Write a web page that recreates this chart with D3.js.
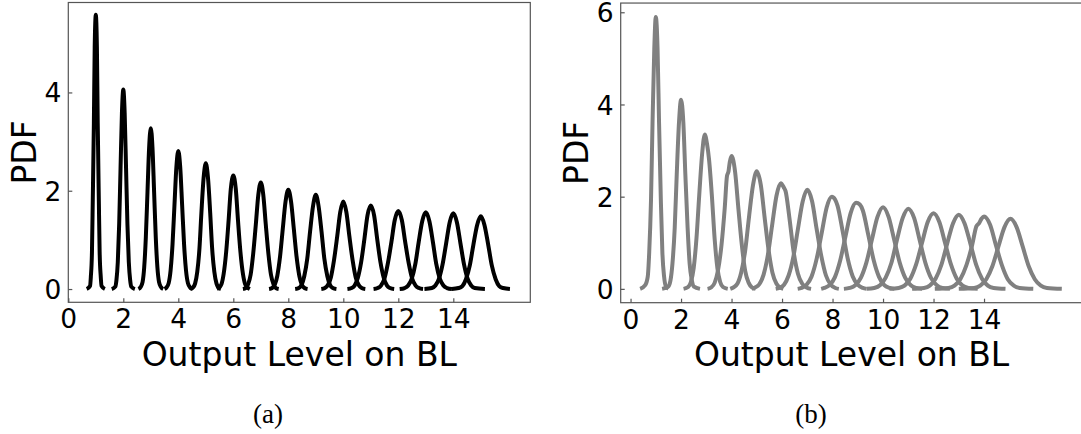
<!DOCTYPE html>
<html lang="en">
<head>
    <meta charset="UTF-8">
    <title>PDF of output levels</title>
    <script src="https://d3js.org/d3.v7.min.js"></script>
    <style>
        body {
            margin: 0;
            padding: 0;
            background-color: #fff;
        }
        svg text {
            font-family: "DejaVu Sans", sans-serif;
            fill: #000;
        }
        svg text.caption {
            font-family: "Liberation Serif", "DejaVu Serif", serif;
        }
    </style>
</head>
<body>
    <svg id="fig" width="1081" height="434"></svg>

    <script>
        // tick labels
        const xTicks = [0, 2, 4, 6, 8, 10, 12, 14];
        const yTicksA = [0, 2, 4];
        const yTicksB = [0, 2, 4, 6];

        // panel (a): one [xs, ys] pair per output level
        const curvesA = [
            [[0.67,0.79,0.82,0.86,0.89,0.93,0.96,1.00,1.04,1.07,1.11,1.14,1.18,1.21,1.33],
             [0,0.06,0.25,0.75,1.81,3.38,4.92,5.58,4.92,3.38,1.81,0.75,0.25,0.06,0]],
            [[1.58,1.71,1.75,1.80,1.85,1.90,1.95,2.00,2.05,2.10,2.15,2.20,2.25,2.29,2.42],
             [0,0.05,0.18,0.55,1.32,2.46,3.58,4.06,3.58,2.46,1.32,0.55,0.18,0.05,0]],
            [[2.55,2.63,2.70,2.76,2.82,2.88,2.94,3.00,3.06,3.12,3.18,3.24,3.30,3.37,3.45],
             [0,0.04,0.14,0.44,1.06,1.98,2.89,3.27,2.89,1.98,1.06,0.44,0.14,0.04,0]],
            [[3.50,3.57,3.65,3.72,3.79,3.86,3.93,4.00,4.07,4.14,4.21,4.28,4.35,4.43,4.50],
             [0,0.03,0.12,0.38,0.91,1.70,2.48,2.81,2.48,1.70,0.91,0.38,0.12,0.03,0]],
            [[4.45,4.53,4.61,4.69,4.77,4.84,4.92,5.00,5.08,5.16,5.23,5.31,5.39,5.47,5.55],
             [0,0.03,0.11,0.35,0.83,1.55,2.26,2.56,2.26,1.55,0.83,0.35,0.11,0.03,0]],
            [[5.40,5.48,5.57,5.65,5.74,5.83,5.91,6.00,6.09,6.17,6.26,6.35,6.43,6.52,6.60],
             [0,0.03,0.10,0.31,0.75,1.40,2.04,2.31,2.04,1.40,0.75,0.31,0.10,0.03,0]],
            [[6.35,6.45,6.54,6.63,6.72,6.82,6.91,7.00,7.09,7.18,7.28,7.37,7.46,7.55,7.65],
             [0,0.02,0.10,0.29,0.70,1.32,1.92,2.17,1.92,1.32,0.70,0.29,0.10,0.02,0]],
            [[7.30,7.41,7.51,7.60,7.70,7.80,7.90,8.00,8.10,8.20,8.30,8.40,8.49,8.59,8.70],
             [0,0.02,0.09,0.27,0.66,1.23,1.78,2.02,1.78,1.23,0.66,0.27,0.09,0.02,0]],
            [[8.25,8.38,8.48,8.58,8.69,8.79,8.90,9.00,9.10,9.21,9.31,9.42,9.52,9.62,9.75],
             [0,0.02,0.08,0.26,0.62,1.16,1.69,1.92,1.69,1.16,0.62,0.26,0.08,0.02,0]],
            [[9.20,9.33,9.44,9.55,9.66,9.78,9.89,10.00,10.11,10.22,10.34,10.45,10.56,10.67,10.80],
             [0,0.02,0.08,0.24,0.58,1.08,1.57,1.78,1.57,1.08,0.58,0.24,0.08,0.02,0]],
            [[10.15,10.30,10.41,10.53,10.65,10.77,10.88,11.00,11.12,11.23,11.35,11.47,11.59,11.70,11.85],
             [0,0.02,0.07,0.23,0.55,1.03,1.50,1.70,1.50,1.03,0.55,0.23,0.07,0.02,0]],
            [[11.10,11.25,11.37,11.50,11.62,11.75,11.87,12.00,12.13,12.25,12.38,12.50,12.63,12.75,12.90],
             [0,0.02,0.07,0.22,0.52,0.96,1.40,1.59,1.40,0.96,0.52,0.22,0.07,0.02,0]],
            [[12.05,12.23,12.36,12.49,12.62,12.74,12.87,13.00,13.13,13.26,13.38,13.51,13.64,13.77,13.95],
             [0,0.02,0.07,0.21,0.51,0.95,1.38,1.56,1.38,0.95,0.51,0.21,0.07,0.02,0]],
            [[12.95,13.22,13.35,13.48,13.61,13.74,13.87,14.00,14.13,14.26,14.39,14.52,14.65,14.78,15.15],
             [0,0.02,0.07,0.21,0.50,0.93,1.36,1.54,1.36,0.93,0.50,0.21,0.07,0.02,0]],
            [[13.94,14.19,14.33,14.46,14.60,14.73,14.87,15.00,15.13,15.27,15.40,15.54,15.67,15.81,16.06],
             [0,0.02,0.06,0.20,0.48,0.90,1.31,1.48,1.31,0.90,0.48,0.20,0.06,0.02,0]]
        ];

        // panel (b): wider curves, some with small shoulders
        const curvesB = [
            [[0.38,0.58,0.68,0.74,0.81,0.87,0.94,1.00,1.07,1.13,1.20,1.26,1.33,1.39,1.50],
             [0,0.08,0.26,0.80,1.92,3.58,5.21,5.90,5.21,3.58,1.92,0.80,0.26,0.07,0]],
            [[1.25,1.49,1.58,1.66,1.75,1.83,1.92,2.00,2.09,2.17,2.26,2.34,2.43,2.51,2.75],
             [0,0.05,0.18,0.55,1.33,2.49,3.62,4.10,3.62,2.49,1.33,0.55,0.18,0.05,0]],
            [[2.10,2.28,2.39,2.50,2.61,2.72,2.84,2.94,3.03,3.11,3.22,3.33,3.44,3.55,3.66,3.85],
             [0,0.04,0.15,0.45,1.09,2.03,2.96,3.35,3.14,2.80,2.03,1.09,0.45,0.15,0.04,0]],
            [[3.05,3.19,3.33,3.46,3.60,3.73,3.82,3.88,3.93,4.00,4.14,4.27,4.41,4.54,4.68,4.81,4.95],
             [0,0.03,0.13,0.39,0.94,1.75,2.45,2.55,2.75,2.88,2.54,1.75,0.94,0.39,0.13,0.03,0]],
            [[3.95,4.07,4.23,4.38,4.54,4.69,4.85,5.00,5.16,5.31,5.47,5.62,5.78,5.93,6.05],
             [0,0.03,0.11,0.35,0.83,1.55,2.25,2.55,2.25,1.55,0.83,0.35,0.11,0.03,0]],
            [[4.80,4.93,5.10,5.27,5.44,5.61,5.78,5.95,6.07,6.14,6.29,6.46,6.63,6.80,6.97,7.15],
             [0,0.03,0.10,0.31,0.74,1.39,2.02,2.29,2.20,2.12,1.55,0.80,0.33,0.11,0.03,0]],
            [[5.75,5.89,6.08,6.26,6.45,6.63,6.82,7.00,7.19,7.37,7.56,7.74,7.93,8.11,8.25],
             [0,0.02,0.09,0.29,0.70,1.30,1.90,2.15,1.90,1.30,0.70,0.29,0.09,0.02,0]],
            [[6.62,6.77,6.97,7.17,7.37,7.57,7.77,7.97,8.10,8.20,8.40,8.60,8.80,9.00,9.20,9.35],
             [0,0.02,0.09,0.27,0.65,1.21,1.77,2.00,1.94,1.80,1.25,0.66,0.27,0.09,0.02,0]],
            [[7.55,7.67,7.88,8.09,8.30,8.51,8.72,8.93,9.08,9.20,9.42,9.63,9.84,10.05,10.26,10.45],
             [0,0.02,0.08,0.25,0.61,1.13,1.65,1.87,1.83,1.70,1.16,0.62,0.26,0.08,0.02,0]],
            [[8.45,8.68,8.90,9.12,9.34,9.56,9.78,10.00,10.22,10.44,10.66,10.88,11.10,11.32,11.55],
             [0,0.02,0.08,0.24,0.57,1.07,1.56,1.77,1.56,1.07,0.57,0.24,0.08,0.02,0]],
            [[9.35,9.65,9.88,10.10,10.33,10.55,10.78,11.00,11.23,11.45,11.68,11.90,12.13,12.35,12.65],
             [0,0.02,0.08,0.24,0.56,1.06,1.54,1.74,1.54,1.06,0.56,0.24,0.08,0.02,0]],
            [[10.25,10.62,10.85,11.08,11.31,11.54,11.77,12.00,12.23,12.46,12.69,12.92,13.15,13.38,13.75],
             [0,0.02,0.07,0.22,0.53,0.99,1.45,1.64,1.45,0.99,0.53,0.22,0.07,0.02,0]],
            [[11.15,11.62,11.85,12.08,12.31,12.54,12.77,13.00,13.23,13.46,13.69,13.92,14.15,14.38,14.85],
             [0,0.02,0.07,0.22,0.52,0.98,1.42,1.61,1.42,0.98,0.52,0.22,0.07,0.02,0]],
            [[12.05,12.59,12.83,13.06,13.30,13.53,13.70,13.80,13.90,14.00,14.24,14.47,14.71,14.94,15.18,15.41,15.95],
             [0,0.02,0.07,0.21,0.51,0.95,1.36,1.42,1.52,1.57,1.39,0.95,0.51,0.21,0.07,0.02,0]],
            [[13.00,13.61,13.85,14.09,14.33,14.57,14.81,15.05,15.29,15.53,15.77,16.01,16.25,16.49,17.08],
             [0,0.02,0.07,0.21,0.49,0.92,1.34,1.52,1.34,0.92,0.49,0.21,0.07,0.02,0]]
        ];

        const svg = d3.select("#fig");
        const tickFont = 26.5;
        const labelFont = 33;
        const spine = "#555";

        function drawPanel(opt) {
            const x = d3.scaleLinear().domain(opt.xDomain).range(opt.xRange);
            const y = d3.scaleLinear().domain(opt.yDomain).range(opt.yRange);
            const g = svg.append("g");

            const clipId = "clip-" + opt.name;
            g.append("clipPath").attr("id", clipId)
                .append("rect")
                .attr("x", opt.xRange[0]).attr("y", opt.yRange[1])
                .attr("width", opt.xRange[1] - opt.xRange[0])
                .attr("height", opt.yRange[0] - opt.yRange[1]);

            // curves
            const line = d3.line()
                .x(d => x(d[0]))
                .y(d => y(d[1]))
                .curve(d3.curveMonotoneX);

            g.append("g")
                .attr("clip-path", `url(#${clipId})`)
                .selectAll("path")
                .data(opt.curves)
                .join("path")
                .attr("d", c => line(c[0].map((v, i) => [v, c[1][i]])))
                .attr("fill", "none")
                .attr("stroke", opt.color)
                .attr("stroke-width", 4)
                .attr("stroke-linejoin", "round");

            // box
            g.append("rect")
                .attr("x", opt.xRange[0]).attr("y", opt.yRange[1])
                .attr("width", opt.xRange[1] - opt.xRange[0])
                .attr("height", opt.yRange[0] - opt.yRange[1])
                .attr("fill", "none")
                .attr("stroke", spine)
                .attr("stroke-width", 1.2);

            // x axis (ticks pointing in)
            const xAxis = d3.axisBottom(x).tickValues(xTicks).tickFormat(d3.format("d"))
                .tickSize(-4).tickPadding(7);
            const gx = g.append("g")
                .attr("transform", `translate(0,${opt.yRange[0]})`)
                .call(xAxis);
            gx.select(".domain").remove();
            gx.selectAll(".tick line").attr("stroke", spine).attr("stroke-width", 1.2);
            gx.selectAll(".tick text")
                .attr("font-size", tickFont)
                .attr("font-family", "DejaVu Sans")
                .attr("dy", null)
                .attr("y", 26);

            // y axis
            const yAxis = d3.axisLeft(y).tickValues(opt.yTicks).tickFormat(d3.format("d"))
                .tickSize(-4).tickPadding(7);
            const gy = g.append("g")
                .attr("transform", `translate(${opt.xRange[0]},0)`)
                .call(yAxis);
            gy.select(".domain").remove();
            gy.selectAll(".tick line").attr("stroke", spine).attr("stroke-width", 1.2);
            gy.selectAll(".tick text")
                .attr("font-size", tickFont)
                .attr("font-family", "DejaVu Sans")
                .attr("dy", "0.36em");

            // axis labels
            g.append("text")
                .attr("x", (opt.xRange[0] + Math.min(opt.xRange[1], opt.xRange[0] + 462)) / 2)
                .attr("y", 366)
                .attr("text-anchor", "middle")
                .attr("font-size", labelFont)
                .text("Output Level on BL");

            g.append("text")
                .attr("transform", `translate(${opt.yLabelX},${(opt.yRange[0] + opt.yRange[1]) / 2}) rotate(-90)`)
                .attr("text-anchor", "middle")
                .attr("font-size", labelFont)
                .text("PDF");

            // sub-caption
            g.append("text")
                .attr("class", "caption")
                .attr("x", opt.captionX)
                .attr("y", 423)
                .attr("text-anchor", "middle")
                .attr("font-size", 27)
                .text(opt.caption);
        }

        drawPanel({
            name: "a",
            curves: curvesA,
            color: "#000",
            xDomain: [0, 16.8], xRange: [68.3, 530.3],
            yDomain: [-0.27, 5.83], yRange: [302.3, 2.5],
            yTicks: yTicksA,
            yLabelX: 36,
            caption: "(a)", captionX: 268
        });

        drawPanel({
            name: "b",
            curves: curvesB,
            color: "#808080",
            xDomain: [-0.39, 17.9], xRange: [620.7, 1082.5],
            yDomain: [-0.3, 6.2], yRange: [302.7, 3.05],
            yTicks: yTicksB,
            yLabelX: 588,
            caption: "(b)", captionX: 811
        });
    </script>
</body>
</html>
